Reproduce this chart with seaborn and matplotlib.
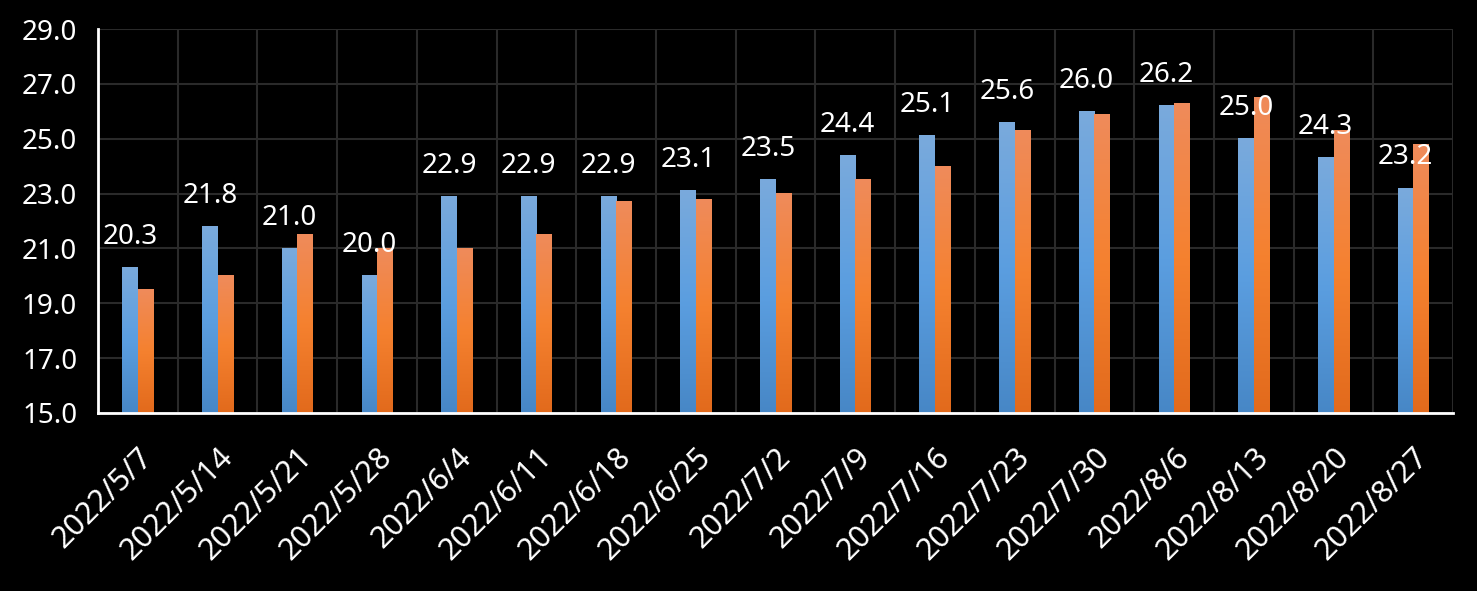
import numpy as np
import pandas as pd
import matplotlib
matplotlib.use("Agg")
import matplotlib.pyplot as plt
from matplotlib.colors import LinearSegmentedColormap
from matplotlib.ticker import FixedLocator, FormatStrFormatter
import seaborn as sns

# data
dates = ["2022/5/7", "2022/5/14", "2022/5/21", "2022/5/28", "2022/6/4", "2022/6/11",
         "2022/6/18", "2022/6/25", "2022/7/2", "2022/7/9", "2022/7/16", "2022/7/23",
         "2022/7/30", "2022/8/6", "2022/8/13", "2022/8/20", "2022/8/27"]
values_blue = [20.3, 21.8, 21.0, 20.0, 22.9, 22.9, 22.9, 23.1, 23.5, 24.4, 25.1, 25.6,
               26.0, 26.2, 25.0, 24.3, 23.2]
values_orange = [19.5, 20.0, 21.5, 21.0, 21.0, 21.5, 22.7, 22.8, 23.0, 23.5, 24.0, 25.3,
                 25.9, 26.3, 26.5, 25.3, 24.8]
y_ticks = [15, 17, 19, 21, 23, 25, 27, 29]

df = pd.DataFrame({
    "date": dates * 2,
    "value": values_blue + values_orange,
    "series": ["blue"] * len(dates) + ["orange"] * len(dates),
})

sns.set_theme(style="dark")
plt.rcParams["font.family"] = ["Noto Sans", "DejaVu Sans"]

fig = plt.figure(figsize=(14.77, 5.91), dpi=100, facecolor="black")
ax = fig.add_axes([0.0664, 0.3012, 0.9174, 0.6497])
ax.set_facecolor("black")

sns.barplot(data=df, x="date", y="value", hue="series", order=dates,
            hue_order=["blue", "orange"], palette=["#5b9bd5", "#ed7d31"],
            width=0.39, gap=0, dodge=True, legend=False, ax=ax, zorder=3)

ymin, ymax = 15, 29
grad = np.linspace(0, 1, 256).reshape(-1, 1)
cmaps = [
    LinearSegmentedColormap.from_list("b", ["#4787c6", "#5b9ee0", "#7aaadc"]),
    LinearSegmentedColormap.from_list("o", ["#e26a1c", "#f5812f", "#ef8b5b"]),
]
for cont, cm in zip(ax.containers, cmaps):
    for p in cont.patches:
        x0 = p.get_x()
        w = p.get_width()
        top = p.get_y() + p.get_height()
        p.set_facecolor("none")
        p.set_edgecolor("none")
        ax.imshow(grad, cmap=cm, origin="lower", aspect="auto",
                  extent=[x0, x0 + w, ymin, top], zorder=3)

# value labels over the blue bars
ax.bar_label(ax.containers[0], fmt="%.1f", padding=12, color="white",
             fontsize=20, zorder=5)

n = len(dates)
ax.set_xlim(-0.5, n - 0.5)
ax.set_ylim(ymin, ymax)

ax.set_yticks(y_ticks)
ax.yaxis.set_major_formatter(FormatStrFormatter("%.1f"))
ax.tick_params(axis="y", length=0, pad=15, labelsize=20, labelcolor="white")

ax.set_xticks(range(n))
ax.set_xticklabels(dates, rotation=45, ha="right", rotation_mode="anchor")
ax.xaxis.set_minor_locator(FixedLocator(np.arange(-0.5, n, 1.0)))
ax.tick_params(axis="x", which="major", length=0, pad=21, labelsize=22, labelcolor="white")
ax.tick_params(axis="x", which="minor", length=9, width=2, color="white", direction="out")

ax.grid(True, which="major", axis="y", color="#2a2a2a", linewidth=1.5, zorder=0)
ax.grid(True, which="minor", axis="x", color="#2a2a2a", linewidth=1.5, zorder=0)
ax.grid(False, which="major", axis="x")
ax.set_axisbelow(True)

for side in ["top", "right"]:
    ax.spines[side].set_visible(False)
for side in ["left", "bottom"]:
    ax.spines[side].set_visible(True)
    ax.spines[side].set_color("white")
    ax.spines[side].set_linewidth(2)
    ax.spines[side].set_zorder(6)

ax.set_xlabel("")
ax.set_ylabel("")

fig.savefig("out.png", dpi=100, facecolor="black")
